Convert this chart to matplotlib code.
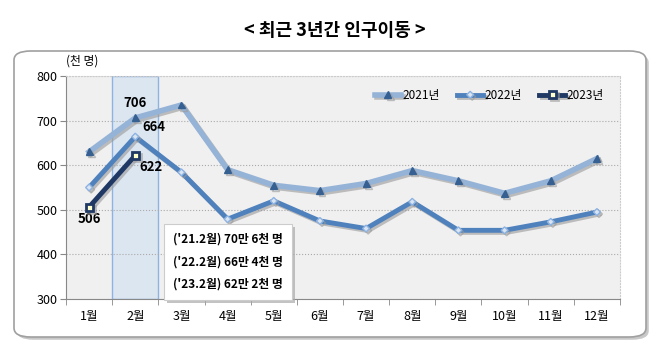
import matplotlib.pyplot as plt
import matplotlib.patches as mpatches
import matplotlib.patheffects as pe

plt.rcParams['font.family'] = ['Noto Sans CJK KR', 'DejaVu Sans']

# data (천 명)
months = ['1월', '2월', '3월', '4월', '5월', '6월', '7월', '8월', '9월', '10월', '11월', '12월']
y2021 = [630, 706, 735, 590, 555, 543, 559, 588, 565, 537, 565, 615]
y2022 = [550, 664, 584, 479, 520, 475, 458, 518, 454, 454, 473, 495]
y2023 = [506, 622]
note_lines = ["('21.2월) 70만 6천 명", "('22.2월) 66만 4천 명", "('23.2월) 62만 2천 명"]

fig = plt.figure(figsize=(6.7, 3.63), dpi=100)

# outer rounded frame
frame = mpatches.FancyBboxPatch((14 / 670, 1 - 337 / 363), 632 / 670, 286 / 363,
                                boxstyle="round,pad=0,rounding_size=0.025",
                                transform=fig.transFigure, fc='white', ec='#a0a0a0', lw=1.2, zorder=-5,
                                path_effects=[pe.withSimplePatchShadow(offset=(2, -2), shadow_rgbFace='#bbbbbb', alpha=0.8)])
fig.patches.append(frame)

fig.text(0.5, 1 - 31 / 363, '< 최근 3년간 인구이동 >', ha='center', va='center', fontsize=13, fontweight='bold')

ax = fig.add_axes([66 / 670, 1 - 299 / 363, 554 / 670, 223 / 363])
ax.set_zorder(2)
ax.set_facecolor('#f0f0f0')
x = list(range(len(months)))

ax.axvspan(0.5, 1.5, fc='#dce6f1', ec='#8db3e2', lw=1, zorder=1)

shadow = [pe.SimpleLineShadow(offset=(1.5, -1.5), shadow_color='#999999', alpha=0.6), pe.Normal()]
ax.plot(x, y2021, color='#95b3d7', lw=4, marker='^', ms=5, mfc='#366092', mec='#366092',
        label='2021년', zorder=3, path_effects=shadow)
ax.plot(x, y2022, color='#4f81bd', lw=3.5, marker='D', ms=3.5, mfc='#dbe5f1', mec='#8db3e2',
        label='2022년', zorder=4, path_effects=shadow)
ax.plot(x[:len(y2023)], y2023, color='#1f3864', lw=3.5, marker='s', ms=5, mfc='#ffffcc', mec='#1f3864',
        mew=2, label='2023년', zorder=5, path_effects=shadow)

ax.set_xlim(-0.5, 11.5)
ax.set_ylim(300, 800)
ax.set_yticks([300, 400, 500, 600, 700, 800])
ax.set_xticks(x)
ax.set_xticklabels(months, fontsize=9)
ax.set_xticks([i + 0.5 for i in range(-1, 12)], minor=True)
ax.tick_params(axis='x', which='major', length=0, pad=8)
ax.tick_params(axis='x', which='minor', length=4, color='#888888')
ax.tick_params(axis='y', length=4, color='#888888', labelsize=9, pad=2)
ax.grid(axis='y', color='#aaaaaa', ls=':', lw=0.8)
for s in ['top', 'right']:
    ax.spines[s].set_color('#cccccc')
    ax.spines[s].set_linestyle(':')
for s in ['left', 'bottom']:
    ax.spines[s].set_color('#888888')

ax.text(-0.5, 820, '(천 명)', fontsize=8.5, ha='left', va='bottom')

ax.text(1, y2021[1] + 18, str(y2021[1]), ha='center', va='bottom', fontsize=9.5, fontweight='bold')
ax.text(1.15, y2022[1] + 6, str(y2022[1]), ha='left', va='bottom', fontsize=9.5, fontweight='bold')
ax.text(1.1, y2023[1] - 10, str(y2023[1]), ha='left', va='top', fontsize=9.5, fontweight='bold')
ax.text(0, y2023[0] - 12, str(y2023[0]), ha='center', va='top', fontsize=9.5, fontweight='bold')

ax.text(1.82, 383, '\n'.join(note_lines), fontsize=8.5, fontweight='bold', linespacing=1.95,
        ha='left', va='center', zorder=6,
        bbox=dict(boxstyle='square,pad=0.75', fc='white', ec='#cccccc', lw=0.8,
                  path_effects=[pe.withSimplePatchShadow(offset=(2, -2), shadow_rgbFace='#aaaaaa', alpha=0.7)]))

ax.legend(loc='upper right', bbox_to_anchor=(0.99, 0.99), ncol=3, frameon=False, fontsize=8.5,
          handlelength=2.2, columnspacing=1.5, handletextpad=0.1)

fig.savefig('out.png', dpi=100)
